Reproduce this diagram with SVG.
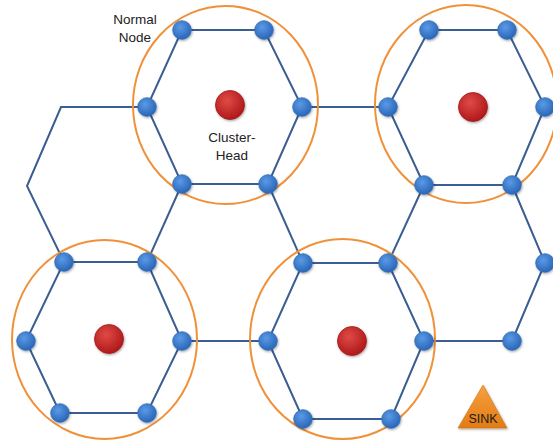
<svg xmlns="http://www.w3.org/2000/svg" width="553" height="445" viewBox="0 0 553 445">
<defs>
<radialGradient id="gb" cx="40%" cy="35%" r="65%">
<stop offset="0" stop-color="#5a9ae6"/><stop offset="1" stop-color="#2a66b8"/>
</radialGradient>
<radialGradient id="gr" cx="40%" cy="35%" r="65%">
<stop offset="0" stop-color="#e04a45"/><stop offset="1" stop-color="#b0191c"/>
</radialGradient>
<linearGradient id="go" x1="0" y1="0" x2="0" y2="1">
<stop offset="0" stop-color="#f7a040"/><stop offset="1" stop-color="#e27c14"/>
</linearGradient>
<filter id="sh" x="-30%" y="-30%" width="170%" height="170%">
<feDropShadow dx="0.8" dy="1.2" stdDeviation="0.8" flood-color="#000" flood-opacity="0.35"/>
</filter>
<circle id="n" r="9.3" fill="url(#gb)" stroke="#3470b8" stroke-width="0.8"/>
<circle id="h" r="14.5" fill="url(#gr)" stroke="#a8191b" stroke-width="0.8"/>
</defs>
<style>
.e{stroke:#3a5d92;stroke-width:2;fill:none;stroke-linejoin:miter}
.c{stroke:#f0913a;stroke-width:2;fill:none}
.t{font-family:"Liberation Sans",Arial,sans-serif;font-size:13.5px;fill:#222;text-anchor:middle}
.s{font-family:"Liberation Sans",Arial,sans-serif;font-size:12.5px;fill:#1a1a1a;text-anchor:middle}
.nd use{filter:url(#sh)}
</style>
<rect width="553" height="445" fill="#fff"/>
<g id="connectors">
<polygon class="e" points="182,30 264,30 302,107 268,184 182,184 147,107"/>
<polygon class="e" points="429,30 507,30 545,107 512,185 424,185 388,107"/>
<polygon class="e" points="64,262 147,262 182,341 147,413 60,413 26,341"/>
<polygon class="e" points="303,263 388,263 424,341 391,419 303,419 268,341"/>
<polyline class="e" points="147,107 61,107 27,186 64,262"/>
<line class="e" x1="182" y1="184" x2="147" y2="262"/>
<line class="e" x1="268" y1="184" x2="303" y2="263"/>
<line class="e" x1="302" y1="107" x2="388" y2="107"/>
<line class="e" x1="424" y1="185" x2="388" y2="263"/>
<line class="e" x1="182" y1="341" x2="268" y2="341"/>
<line class="e" x1="424" y1="341" x2="512" y2="341"/>
<polyline class="e" points="512,185 545,263 512,341"/>
</g>
<g id="ranges">
<ellipse class="c" cx="225.5" cy="105" rx="92.5" ry="99"/>
<ellipse class="c" cx="466" cy="104" rx="91" ry="99"/>
<ellipse class="c" cx="104.5" cy="339.5" rx="92.5" ry="99.5"/>
<ellipse class="c" cx="342.5" cy="339" rx="92.5" ry="100"/>
</g>
<g id="cluster-a" class="nd">
<use href="#n" x="182" y="30"/><use href="#n" x="264" y="30"/><use href="#n" x="147" y="107"/>
<use href="#n" x="302" y="107"/><use href="#n" x="182" y="184"/><use href="#n" x="268" y="184"/>
<use href="#h" x="230" y="105"/>
</g>
<g id="cluster-b" class="nd">
<use href="#n" x="429" y="30"/><use href="#n" x="507" y="30"/><use href="#n" x="388" y="107"/>
<use href="#n" x="545" y="107"/><use href="#n" x="424" y="185"/><use href="#n" x="512" y="185"/>
<use href="#h" x="473" y="107"/>
</g>
<g id="cluster-c" class="nd">
<use href="#n" x="64" y="262"/><use href="#n" x="147" y="262"/><use href="#n" x="26" y="341"/>
<use href="#n" x="182" y="341"/><use href="#n" x="60" y="413"/><use href="#n" x="147" y="413"/>
<use href="#h" x="109" y="339"/>
</g>
<g id="cluster-d" class="nd">
<use href="#n" x="303" y="263"/><use href="#n" x="388" y="263"/><use href="#n" x="268" y="341"/>
<use href="#n" x="424" y="341"/><use href="#n" x="303" y="419"/><use href="#n" x="391" y="419"/>
<use href="#h" x="352" y="341"/>
</g>
<g id="extra-nodes" class="nd">
<use href="#n" x="545" y="263"/><use href="#n" x="512" y="341"/>
</g>
<g id="sink">
<polygon points="483,385 458,428 507,428" fill="url(#go)" stroke="#d07010" stroke-width="0.6" filter="url(#sh)"/>
<text class="s" x="483" y="423">SINK</text>
</g>
<g id="labels">
<text class="t" x="135" y="24">Normal</text>
<text class="t" x="135" y="42">Node</text>
<text class="t" x="232" y="142">Cluster-</text>
<text class="t" x="232" y="160">Head</text>
</g>
</svg>
